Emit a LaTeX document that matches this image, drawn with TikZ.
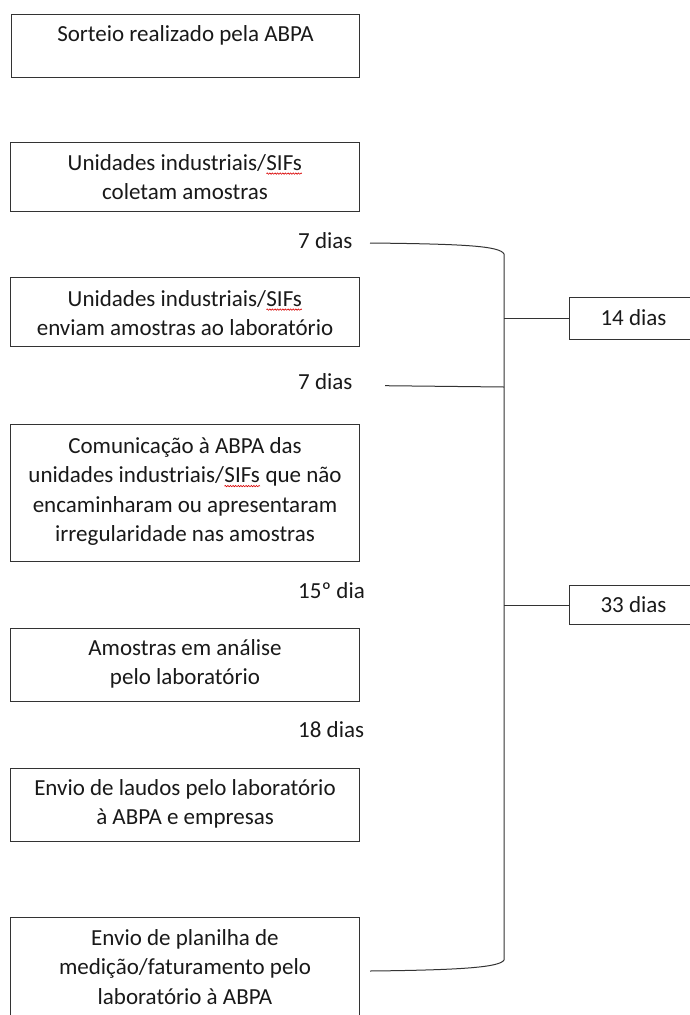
\documentclass[tikz,border=0pt]{standalone}
\usepackage{fontspec}
\setmainfont{Carlito}
\usetikzlibrary{decorations.pathmorphing}
\newcommand\redsquig[1]{\tikz[baseline=(w.base),x=1pt,y=1pt]{\node[inner sep=0pt,outer sep=0pt,anchor=base](w) at (0,0) {#1};\draw[red!85!black, line width=0.6pt, decorate, decoration={snake, amplitude=0.7pt, segment length=2.6pt}] ([yshift=-3.6pt]w.base west) -- ([yshift=-3.6pt]w.base east);}}
\newcommand\fs{\fontsize{23pt}{29.5pt}\selectfont}
\newcommand\boxtext[1]{\parbox[t]{349pt}{\centering #1}}
\begin{document}
\begin{tikzpicture}[x=1pt,y=-1pt,
  stepbox/.style={draw=black!80, line width=1pt, minimum width=349pt, inner sep=0pt, anchor=north west},
  sidebox/.style={draw=black!80, line width=1pt, minimum width=135pt, inner sep=0pt, anchor=north west},
  txt/.style={anchor=base, inner sep=0pt, font=\fs, text=black!90},
  lbl/.style={anchor=base west, inner sep=0pt, font=\fs, text=black!90},
  link/.style={draw=black!80, line width=1pt}]
\useasboundingbox (0,0) rectangle (690,1015);
\clip (0,0) rectangle (690,1015);

% step boxes
\node[stepbox, minimum width=348pt, minimum height=63pt] (b1) at (11,14) {};
\node[stepbox, minimum height=69pt]  (b2) at (10,142) {};
\node[stepbox, minimum height=69pt]  (b3) at (10,277) {};
\node[stepbox, minimum height=137pt] (b4) at (10,424) {};
\node[stepbox, minimum height=73pt]  (b5) at (10,628) {};
\node[stepbox, minimum height=73pt]  (b6) at (10,768) {};
\node[stepbox, minimum height=110pt] (b7) at (10,917) {};

% texts
\node[txt] (t1) at ([yshift=-27pt]b1.north) {\boxtext{Sorteio realizado pela ABPA}};
\node[txt] (t2) at ([yshift=-28pt]b2.north) {\boxtext{Unidades industriais/\redsquig{SIFs}\\coletam amostras}};
\node[txt] (t3) at ([yshift=-29pt]b3.north) {\boxtext{Unidades industriais/\redsquig{SIFs}\\enviam amostras ao laboratório}};
\node[txt] (t4) at ([yshift=-29pt]b4.north) {\boxtext{Comunicação à ABPA das\\unidades industriais/\redsquig{SIFs} que não\\encaminharam ou apresentaram\\irregularidade nas amostras}};
\node[txt] (t5) at ([yshift=-27pt]b5.north) {\boxtext{Amostras em análise\\pelo laboratório}};
\node[txt] (t6) at ([yshift=-27pt]b6.north) {\boxtext{Envio de laudos pelo laboratório\\à ABPA e empresas}};
\node[txt] (t7) at ([yshift=-28pt]b7.north) {\boxtext{Envio de planilha de\\medição/faturamento pelo\\laboratório à ABPA}};

% interval labels
\node[lbl] (d1) at (298,248) {7 dias};
\node[lbl] (d2) at (298,389) {7 dias};
\node[lbl] (d3) at (298,598) {15º dia};
\node[lbl] (d4) at (298,737) {18 dias};

% side boxes
\node[sidebox, minimum height=42pt] (r14) at (569,297) {};
\node[txt] (r14t) at (633.5,325) {14 dias};
\node[sidebox, minimum height=39pt] (r33) at (569,585) {};
\node[txt] (r33t) at (633.5,612) {33 dias};

% bracket
\coordinate (c1) at (370,243);
\coordinate (c2) at (385,385.7);
\coordinate (c7) at (370,971);
\coordinate (top) at (504,254);
\coordinate (bot) at (504,960);
\draw[link] (c1) .. controls (465,244) and (500,246) .. (top) -- (bot)
  .. controls (500,967) and (465,970) .. (c7);
\draw[link] (c2) -- (504,387);
\draw[link] (r14.west -| top) -- (r14.west);
\draw[link] (r33.west -| top) -- (r33.west);
\end{tikzpicture}
\end{document}
